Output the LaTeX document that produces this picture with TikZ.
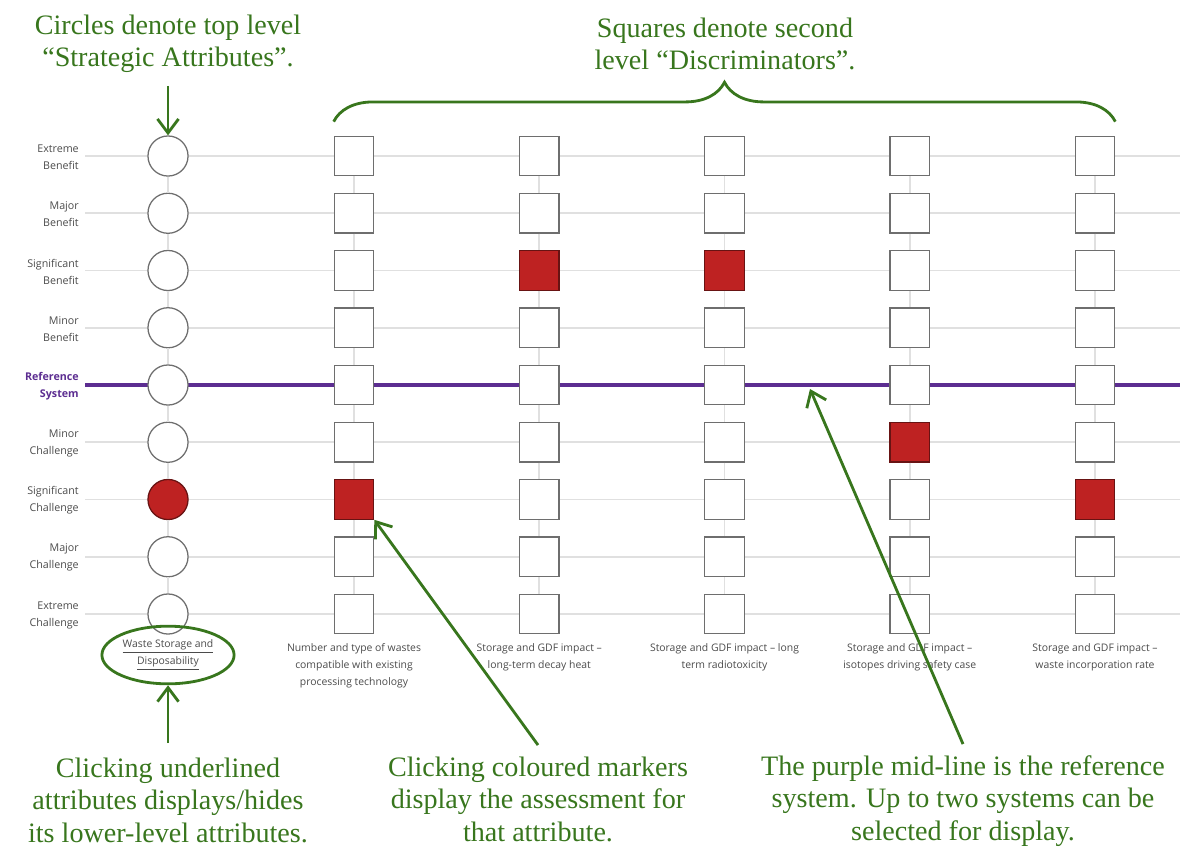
\documentclass[tikz,border=0pt]{standalone}
\usepackage{fontspec}
\setmainfont{Liberation Serif}
\newfontfamily\uifont{Open Sans}
\usepackage{xcolor}
\usetikzlibrary{arrows.meta, decorations.pathreplacing, shapes.geometric, positioning}

\definecolor{annot}{RGB}{56,118,29}
\definecolor{refpurple}{RGB}{92,45,145}
\definecolor{markred}{RGB}{190,34,34}
\definecolor{gridgrey}{RGB}{224,224,224}
\definecolor{edgegrey}{RGB}{110,110,110}
\definecolor{labgrey}{RGB}{75,75,75}

\newcommand{\refsys}[1]{\textbf{\textcolor{refpurple}{#1}}}

\tikzset{
  gridline/.style={gridgrey, line width=1.4pt},
  attr/.style={circle, draw=edgegrey, fill=white, line width=0.9pt, minimum size=28.5pt, inner sep=0pt},
  disc/.style={rectangle, draw=edgegrey, fill=white, line width=0.9pt, minimum size=28pt, inner sep=0pt},
  hit/.style={fill=markred, draw=markred!55!black},
  rowlabel/.style={font=\uifont\fontsize{7.6}{12.1}\selectfont, text=labgrey, align=right, anchor=east, inner sep=0pt},
  collabel/.style={font=\uifont\fontsize{7.4}{12.1}\selectfont, text=labgrey, align=center, inner sep=0pt},
  note/.style={font=\fontsize{20}{23.1}\selectfont, text=annot, align=center, inner sep=0pt},
  pointer/.style={annot, line width=2pt, -{Straight Barb[length=10pt, width=15pt]}},
}

\begin{document}
\begin{tikzpicture}[x=0.025cm, y=-0.025cm]
        \useasboundingbox (0,0) rectangle (1200,861);

        % Rows and their labels
        \foreach \lbl [count=\i] in {{Extreme\\Benefit}, {Major\\Benefit}, {Significant\\Benefit}, {Minor\\Benefit},
                {\refsys{Reference}\\\refsys{System}}, {Minor\\Challenge}, {Significant\\Challenge}, {Major\\Challenge}, {Extreme\\Challenge}}
        {
            \pgfmathsetmacro\ry{156+57.25*(\i-1)}
            \draw[gridline] (85,\ry) -- (1180,\ry);
            \node[rowlabel] (row\i) at (79,{\ry+1}) {\lbl};
        }
        \draw[refpurple, line width=2.8pt] (85,385) -- (1180,385);

        % Strategic attribute (circles)
        \foreach \i in {1,...,9} {
            \def\mk{}
            \ifnum\i=7 \def\mk{hit}\fi
            \node[attr, \mk] (c\i) at (168, {156+57.25*(\i-1)}) {};
        }
        \foreach \i [evaluate=\i as \j using int(\i+1)] in {1,...,8} \draw[gridline] (c\i) -- (c\j);

        \node[collabel, draw=annot, line width=2pt, ellipse, minimum width=94pt, minimum height=41pt] (wsd) at (168,655)
            {\underline{Waste Storage and}\\\underline{Disposability}};

        % Discriminators (squares)
        \foreach \cx/\hitrow/\txt [count=\col] in {
                354/7/{Number and type of wastes\\compatible with existing\\processing technology},
                539.25/3/{Storage and GDF impact –\\long-term decay heat},
                724.5/3/{Storage and GDF impact – long\\term radiotoxicity},
                909.75/6/{Storage and GDF impact –\\isotopes driving safety case},
                1095/7/{Storage and GDF impact –\\waste incorporation rate}}
        {
            \foreach \i in {1,...,9} {
                \def\mk{}
                \ifnum\i=\hitrow \def\mk{hit}\fi
                \node[disc, \mk] (s\col-\i) at (\cx, {156+57.25*(\i-1)}) {};
            }
            \foreach \i [evaluate=\i as \j using int(\i+1)] in {1,...,8} \draw[gridline] (s\col-\i) -- (s\col-\j);
            \node[collabel, anchor=north, below=6.5pt of s\col-9] (lab\col) {\txt};
        }

        % Annotations
        \node[note] (ntopl) at (168,44) {Circles denote top level\\“Strategic Attributes”.};
        \node[note] (ntopr) at (725,44) {Squares denote second\\level “Discriminators”.};
        \node[note] (nbotl) at (168,800) {Clicking underlined\\attributes displays/hides\\its lower-level attributes.};
        \node[note] (nbotm) at (538,799) {Clicking coloured markers\\display the assessment for\\that attribute.};
        \node[note] (nbotr) at (963,801) {The purple mid-line is the reference\\system. Up to two systems can be\\selected for display.};
        \coordinate (refpt) at (810,389);

        \draw[annot, line width=2pt, decorate, decoration={brace, amplitude=28pt}]
            ([yshift=10pt]s1-1.north west) -- ([yshift=10pt]s5-1.north east);

        \draw[pointer] ([yshift=-9pt]ntopl.south) -- (c1.north);
        \draw[pointer] ([yshift=10pt]nbotl.north) -- (wsd.south);
        \draw[pointer] ([yshift=8pt]nbotm.north) -- (s1-7.south east);
        \draw[pointer] ([yshift=8pt]nbotr.north) -- (refpt);

    \end{tikzpicture}
\end{document}
